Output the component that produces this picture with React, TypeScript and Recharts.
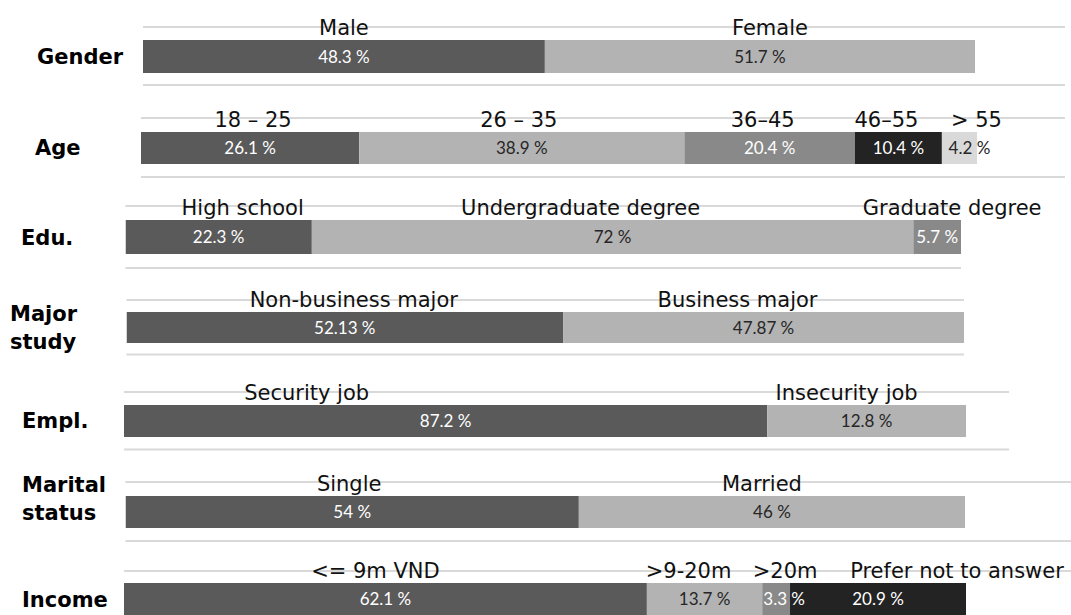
import { BarChart, Bar, XAxis, YAxis, CartesianGrid, LabelList } from "recharts";

// ---- data ----
const rowLabels = ["Gender", "Age", "Edu.", "Major study", "Empl.", "Marital status", "Income"];

const genderCats = ["Male", "Female"];
const genderVals = [48.3, 51.7];

const ageCats = ["18 – 25", "26 – 35", "36–45", "46–55", "> 55"];
const ageVals = [26.1, 38.9, 20.4, 10.4, 4.2];

const eduCats = ["High school", "Undergraduate degree", "Graduate degree"];
const eduVals = [22.3, 72, 5.7];

const majorCats = ["Non-business major", "Business major"];
const majorVals = [52.13, 47.87];

// bar lengths as drawn in the picture; the printed labels say 87.2 / 12.8
const emplCats = ["Security job", "Insecurity job"];
const emplVals = [76.4, 23.6];
const emplShown = [87.2, 12.8];

const maritalCats = ["Single", "Married"];
const maritalVals = [54, 46];

const incomeCats = ["<= 9m VND", ">9-20m", ">20m", "Prefer not to answer"];
const incomeVals = [62.1, 13.7, 3.3, 20.9];

// ---- styling / layout ----
const fills = ["#5a5a5a", "#b3b3b3", "#898989", "#232323", "#d9d9d9"];
const textFills = ["#ffffff", "#262626", "#ffffff", "#ffffff", "#262626"];

const PAGE_W = 1071;
const PAGE_H = 615;
const TOP_PAD = 32;

type RowLayout = {
  barLeft: number;
  barRight: number;
  gridRight: number;
  lineTop: number;
  lineBottom: number;
  barSize: number;
  labelX: number;
  labelDy: number;
  dx: number[];
  valueDx?: number[];
};

const layouts: RowLayout[] = [
  { barLeft: 143, barRight: 975, gridRight: 1065, lineTop: 27, lineBottom: 85, barSize: 33, labelX: 37, labelDy: 0, dx: [0, 10] },
  { barLeft: 141, barRight: 977, gridRight: 1065, lineTop: 117.5, lineBottom: 176.5, barSize: 32, labelX: 35, labelDy: 0, dx: [3, -3, -7, -12, 17], valueDx: [0, 0, 0, 0, 10] },
  { barLeft: 125.5, barRight: 961, gridRight: 961, lineTop: 205.5, lineBottom: 267.5, barSize: 34, labelX: 21, labelDy: 0, dx: [24, -32, 15] },
  { barLeft: 126.5, barRight: 964, gridRight: 964, lineTop: 299.5, lineBottom: 354, barSize: 31, labelX: 10, labelDy: 0, dx: [9, -26] },
  { barLeft: 124, barRight: 966, gridRight: 1009, lineTop: 392, lineBottom: 449.5, barSize: 32, labelX: 22, labelDy: 0, dx: [-139, -20] },
  { barLeft: 125.5, barRight: 965, gridRight: 1071, lineTop: 482, lineBottom: 541, barSize: 32, labelX: 22, labelDy: -13.5, dx: [-3, -10] },
  { barLeft: 124, barRight: 966, gridRight: 1071, lineTop: 571, lineBottom: 627, barSize: 32, labelX: 22, labelDy: 0, dx: [-10, -16, 9, 79], valueDx: [0, 0, 8, 0] },
];

const rowCats = [genderCats, ageCats, eduCats, majorCats, emplCats, maritalCats, incomeCats];
const rowVals = [genderVals, ageVals, eduVals, majorVals, emplVals, maritalVals, incomeVals];
const rowShown = [genderVals, ageVals, eduVals, majorVals, emplShown, maritalVals, incomeVals];

function RowTick(props: any) {
  const { y, payload, labelX, labelDy } = props;
  const lines = String(payload.value).split(" ");
  const lh = 28;
  const start = -((lines.length - 1) * lh) / 2;
  return (
    <text
      x={labelX}
      y={y + labelDy}
      textAnchor="start"
      fontFamily="DejaVu Sans"
      fontWeight="bold"
      fontSize={21}
      fill="#000"
    >
      {lines.map((l, i) => (
        <tspan key={i} x={labelX} y={y + labelDy + start + i * lh} dy="0.36em">
          {l}
        </tspan>
      ))}
    </text>
  );
}

function rect(p: any) {
  const vb = p.viewBox && p.viewBox.width !== undefined ? p.viewBox : p;
  return { x: Number(vb.x), y: Number(vb.y), w: Number(vb.width), h: Number(vb.height) };
}

function Row({ idx }: { idx: number }) {
  const lay = layouts[idx];
  const cats = rowCats[idx];
  const vals = rowVals[idx];
  const shown = rowShown[idx];
  const datum: any = { name: rowLabels[idx] };
  vals.forEach((v, i) => (datum["s" + i] = v));
  const data = [datum];
  const plotH = lay.lineBottom - lay.lineTop;
  const xMax = (100 * (lay.gridRight - lay.barLeft)) / (lay.barRight - lay.barLeft);

  return (
    <div style={{ position: "absolute", left: 0, top: lay.lineTop - TOP_PAD }}>
      <BarChart
        layout="vertical"
        width={PAGE_W}
        height={plotH + TOP_PAD + 12}
        data={data}
        barSize={lay.barSize}
        margin={{ top: TOP_PAD, right: PAGE_W - lay.gridRight, bottom: 12, left: 0 }}
      >
        <CartesianGrid
          vertical={false}
          stroke="#d9d9d9"
          strokeWidth={2}
          horizontalCoordinatesGenerator={({ offset }: any) => [offset.top, offset.top + offset.height]}
        />
        <XAxis type="number" hide domain={[0, xMax]} allowDataOverflow />
        <YAxis
          type="category"
          dataKey="name"
          width={lay.barLeft}
          axisLine={false}
          tickLine={false}
          interval={0}
          tick={<RowTick labelX={lay.labelX} labelDy={lay.labelDy} />}
        />
        {vals.map((_, i) => (
          <Bar key={i} dataKey={"s" + i} stackId="a" fill={fills[i]} isAnimationActive={false}>
            <LabelList
              dataKey={"s" + i}
              content={(p: any) => {
                const r = rect(p);
                const vdx = lay.valueDx ? lay.valueDx[i] : 0;
                return (
                  <text
                    x={r.x + r.w / 2 + vdx}
                    y={r.y + r.h / 2}
                    dy="0.36em"
                    textAnchor="middle"
                    fontFamily="Lato"
                    fontSize={17}
                    fill={textFills[i]}
                  >
                    {shown[i]} %
                  </text>
                );
              }}
            />
            <LabelList
              dataKey={"s" + i}
              content={(p: any) => {
                const r = rect(p);
                return (
                  <text
                    x={r.x + r.w / 2 + lay.dx[i]}
                    y={r.y - 5}
                    textAnchor="middle"
                    fontFamily="DejaVu Sans"
                    fontSize={21}
                    fill="#111"
                  >
                    {cats[i]}
                  </text>
                );
              }}
            />
          </Bar>
        ))}
      </BarChart>
    </div>
  );
}

export default function App() {
  return (
    <div
      style={{
        position: "absolute",
        left: 0,
        top: 0,
        width: PAGE_W,
        height: PAGE_H,
        overflow: "hidden",
        background: "#fff",
      }}
    >
      {layouts.map((_, i) => (
        <Row key={i} idx={i} />
      ))}
    </div>
  );
}
